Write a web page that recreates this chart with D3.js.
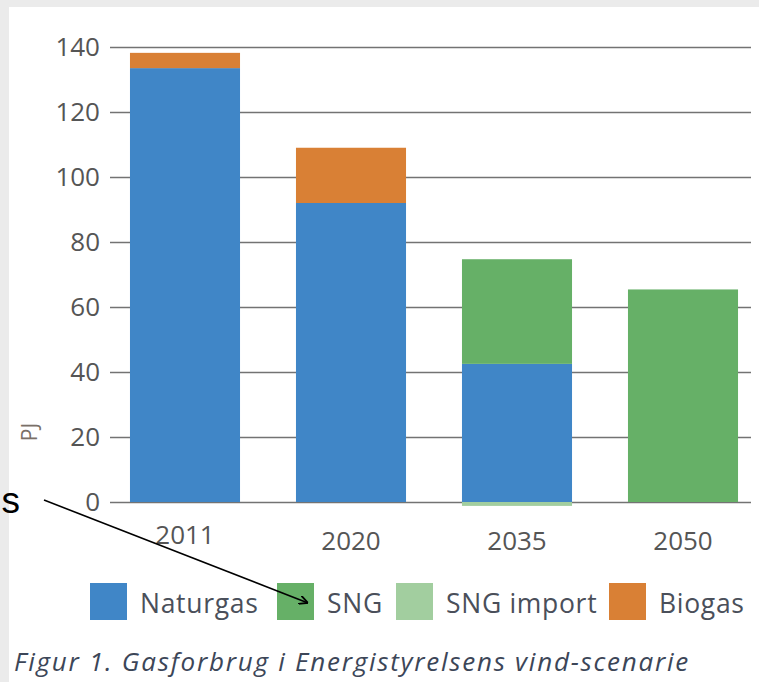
<!DOCTYPE html>
<html><head><meta charset="utf-8">
<script src="https://cdn.jsdelivr.net/npm/d3@7"></script>
<style>html,body{margin:0;padding:0;background:#ebebeb;}svg{display:block;}</style>
</head><body>
<svg id="c" width="759" height="682"></svg>
<script>
const years = ["2011", "2020", "2035", "2050"];
const seriesNames = ["Naturgas", "SNG", "SNG import", "Biogas"];
const naturgas = [133.5, 92, 42.5, 0];
const sng = [0, 0, 32.2, 65.4];
const sngImport = [0, 0, -1.2, 0];
const biogas = [4.7, 17, 0, 0];
const yTicks = [0, 20, 40, 60, 80, 100, 120, 140];
const colors = ["#4086c7", "#66b067", "#a2ce9f", "#d98035"];
const captionText = "Figur 1. Gasforbrug i Energistyrelsens vind-scenarie";
const font = "'Open Sans', sans-serif";

const svg = d3.select("#c");
svg.append("rect").attr("x", 9).attr("y", 7).attr("width", 750).attr("height", 675).attr("fill", "#fff");

const y = d3.scaleLinear().domain([0, 140]).range([502, 47]);
const x = d3.scaleBand().domain(years).range([102, 766]).paddingInner(0.337).paddingOuter(0.1685);

// gridlines via axis
const yAxis = d3.axisLeft(y).tickValues(yTicks).tickSize(-641).tickPadding(10).tickFormat(d3.format("d"));
const ga = svg.append("g").attr("transform", "translate(110,0)").call(yAxis);
ga.select(".domain").remove();
ga.selectAll(".tick line").attr("stroke", "#737373").attr("stroke-width", 1.6);
ga.selectAll(".tick text").attr("fill", "#555").attr("font-family", font).attr("font-size", 26).attr("x", -10).attr("dy", "0.34em");

// stacked data
const seriesVals = [naturgas, sng, sngImport, biogas];
const rows = years.map((yr, i) => {
  const o = {year: yr};
  seriesNames.forEach((s, k) => o[s] = seriesVals[k][i]);
  return o;
});
const stack = d3.stack().keys(seriesNames).offset(d3.stackOffsetDiverging);
const stacked = stack(rows);

svg.append("g").selectAll("g").data(stacked).join("g")
  .attr("fill", (d, i) => colors[i])
  .selectAll("rect").data(d => d.filter(p => p[1] !== p[0])).join("rect")
  .attr("x", d => x(d.data.year))
  .attr("width", x.bandwidth())
  .attr("y", d => y(Math.max(d[0], d[1])))
  .attr("height", d => Math.abs(y(d[0]) - y(d[1])));

// x labels
const xAxis = d3.axisBottom(x).tickSize(0).tickPadding(0);
const gx = svg.append("g").attr("transform", "translate(0,550)").call(xAxis);
gx.select(".domain").remove();
gx.selectAll(".tick text").attr("fill", "#555").attr("font-family", font).attr("font-size", 26).attr("dy", 0)
  .attr("y", (d, i) => i === 0 ? -6 : 0);

// y label
svg.append("text").attr("transform", "translate(37,432) rotate(-90)").attr("text-anchor", "middle")
  .attr("font-family", font).attr("font-size", 21).attr("fill", "#7a7068").text("PJ");

// legend
const legX = [90, 277, 396, 609];
const lg = svg.append("g").selectAll("g").data(seriesNames).join("g")
  .attr("transform", (d, i) => `translate(${legX[i]},583)`);
lg.append("rect").attr("width", 37).attr("height", 37).attr("fill", (d, i) => colors[i]);
lg.append("text").attr("x", 50).attr("y", 30).attr("font-family", font).attr("font-size", 26.5)
  .attr("letter-spacing", 0.7).attr("fill", "#4a4f5a").text(d => d);

// caption
svg.append("text").attr("x", 14).attr("y", 671).attr("font-family", font).attr("font-style", "italic")
  .attr("font-size", 26).attr("letter-spacing", 1.75).attr("fill", "#3c4658").text(captionText);

// annotation arrow
const defs = svg.append("defs");
defs.append("marker").attr("id", "ah").attr("viewBox", "0 0 10 10").attr("refX", 10).attr("refY", 5)
  .attr("markerWidth", 9).attr("markerHeight", 9).attr("markerUnits", "userSpaceOnUse").attr("orient", "auto")
  .append("path").attr("d", "M0,0 L10,5 L0,10").attr("fill", "none").attr("stroke", "#000").attr("stroke-width", 2);
svg.append("text").attr("x", 20).attr("y", 513).attr("text-anchor", "end").attr("font-family", "'Liberation Sans', Arial, sans-serif")
  .attr("font-size", 37).attr("fill", "#000").text("s");
svg.append("line").attr("x1", 44).attr("y1", 500).attr("x2", 308).attr("y2", 603)
  .attr("stroke", "#000").attr("stroke-width", 1.6).attr("marker-end", "url(#ah)");
</script>
</body></html>
